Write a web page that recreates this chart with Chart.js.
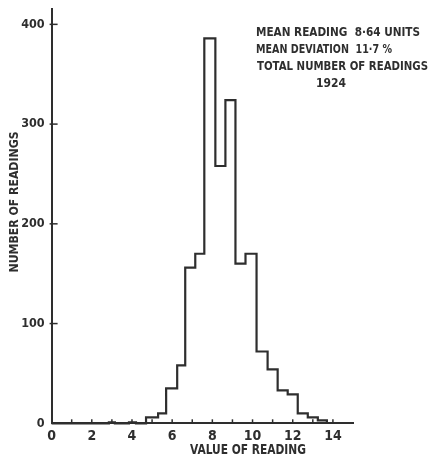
<!DOCTYPE html>
<html>
<head>
<meta charset="utf-8">
<script src="https://cdn.jsdelivr.net/npm/chart.js@4"></script>
<style>
  html,body{margin:0;padding:0;background:#fff;}
  #wrap{width:429px;height:458px;position:relative;}
</style>
</head>
<body>
<div id="wrap"><canvas id="c" width="429" height="458"></canvas></div>
<script>
// Histogram bins: left edges (value of reading) and counts (number of readings)
const binEdges = [0, 2.85, 3.15, 3.85, 4.2, 4.7, 5.3, 5.7, 6.25, 6.65, 7.15, 7.6, 8.15, 8.65, 9.15, 9.65, 10.2, 10.75, 11.25, 11.75, 12.25, 12.75, 13.25];
const counts   = [0, 1,    0,    1,    0,   6,   10,  35,  58,   156,  170,  386, 258,  324,  160,  170,  72,   54,    33,    29,    10,    6,     3];
const lastEdge = 13.7;

const xTickValues = [0, 2, 4, 6, 8, 10, 12, 14];
const yTickValues = [0, 100, 200, 300, 400];

const xTitle = 'VALUE OF READING';
const yTitle = 'NUMBER OF READINGS';
const notes = ['MEAN READING  8·64 UNITS', 'MEAN DEVIATION  11·7 %', 'TOTAL NUMBER OF READINGS', '1924'];

const points = binEdges.map((e, i) => ({x: e, y: counts[i]}));
points.push({x: lastEdge, y: 0});

const INK = '#2e2e2e';
const FONT = "'Liberation Sans Narrow','DejaVu Sans Condensed','Liberation Sans',sans-serif";

const overlay = {
  id: 'overlay',
  afterDraw(chart) {
    const ctx = chart.ctx;
    const xs = chart.scales.x, ys = chart.scales.y;
    const area = chart.chartArea;
    ctx.save();
    ctx.strokeStyle = INK;
    ctx.lineWidth = 1.5;
    // inward tick marks on x axis (every unit)
    for (let v = 1; v <= 14; v++) {
      const px = xs.getPixelForValue(v);
      ctx.beginPath();
      ctx.moveTo(px, area.bottom);
      ctx.lineTo(px, area.bottom - 4);
      ctx.stroke();
    }
    // inward tick marks on y axis
    yTickValues.forEach(v => {
      if (v === 0) return;
      const py = ys.getPixelForValue(v);
      ctx.beginPath();
      ctx.moveTo(area.left - 2, py);
      ctx.lineTo(area.left + 6, py);
      ctx.stroke();
    });
    // annotation
    ctx.fillStyle = INK;
    ctx.font = 'bold 13px ' + FONT;
    ctx.textBaseline = 'middle';
    ctx.textAlign = 'left';
    ctx.fillText(notes[0], 256, 32.5, 164);
    ctx.fillText(notes[1], 256, 49.5, 136);
    ctx.fillText(notes[2], 257, 66.5, 171);
    ctx.textAlign = 'center';
    ctx.fillText(notes[3], 331, 83.5, 30);
    // x title
    ctx.font = 'bold 14px ' + FONT;
    ctx.textAlign = 'center';
    ctx.fillText(xTitle, 248, 450, 116);
    // y title
    ctx.save();
    ctx.translate(14.5, 202);
    ctx.rotate(-Math.PI / 2);
    ctx.font = 'bold 12.5px ' + FONT;
    ctx.fillText(yTitle, 0, 0, 141);
    ctx.restore();
    ctx.restore();
  }
};

new Chart(document.getElementById('c'), {
  type: 'line',
  data: {
    datasets: [{
      data: points,
      stepped: true,
      borderColor: INK,
      borderWidth: 2.2,
      pointRadius: 0,
      fill: false,
      clip: false
    }]
  },
  options: {
    responsive: false,
    animation: false,
    events: [],
    layout: {padding: {left: 0, top: 9.4, right: 76, bottom: 0}},
    plugins: {legend: {display: false}, tooltip: {enabled: false}},
    scales: {
      x: {
        type: 'linear',
        min: 0, max: 15,
        grid: {display: false, drawTicks: false},
        border: {display: true, color: INK, width: 2},
        afterBuildTicks(scale) { scale.ticks = xTickValues.map(v => ({value: v})); },
        ticks: {autoSkip: false, maxRotation: 0, padding: 5, color: INK,
                font: {family: FONT, size: 14, weight: 'bold'}},
        afterFit(scale) {
          scale.height = 458 - 423.3;
          scale.paddingLeft = 0; scale.paddingRight = 0;
        }
      },
      y: {
        type: 'linear',
        min: 0, max: 415,
        grid: {display: false, drawTicks: false},
        border: {display: true, color: INK, width: 2},
        afterBuildTicks(scale) { scale.ticks = yTickValues.map(v => ({value: v})); },
        ticks: {padding: 7, color: INK,
                font: {family: FONT, size: 12.5, weight: 'bold'}},
        afterFit(scale) {
          scale.width = 51.6;
          scale.paddingTop = 0; scale.paddingBottom = 0;
        }
      }
    }
  },
  plugins: [overlay]
});
</script>
</body>
</html>
